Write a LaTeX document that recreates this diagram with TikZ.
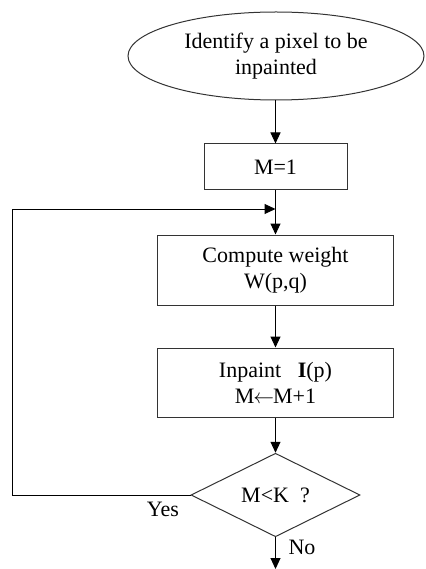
\documentclass[tikz,border=0pt]{standalone}
\usepackage{fontspec}
\setmainfont{Liberation Serif}
\usetikzlibrary{arrows.meta,shapes.geometric}
\begin{document}
\begin{tikzpicture}[x=1pt,y=-1pt,
  every node/.style={font=\fontsize{22}{26}\selectfont, text=black, align=center},
  boxnode/.style={draw=black!80, line width=1pt, rectangle, inner sep=0pt},
  ovalnode/.style={draw=black!80, line width=1pt, ellipse, inner sep=0pt},
  decnode/.style={draw=black!80, line width=1pt, diamond, inner sep=0pt},
  flow/.style={draw=black, line width=1pt, -{Triangle[length=11pt,width=10pt]}},
  lbl/.style={inner sep=0pt}]
\useasboundingbox (0,0) rectangle (425,569);
\node[ovalnode, minimum width=296pt, minimum height=88pt] (ell) at (276,56) {Identify a pixel to be\\inpainted};
\node[boxnode, minimum width=143pt, minimum height=46pt] (m1) at (275.5,167) {M=1};
\node[boxnode, minimum width=236pt, minimum height=70pt] (cw) at (275.5,270) {Compute weight\\W(p,q)};
\node[boxnode, minimum width=236pt, minimum height=69pt] (ip) at (275.5,382.5) {Inpaint\ \ \ \textbf{I}(p)\\M\kern-1pt$\leftarrow$\kern-1ptM+1};
\node[decnode, minimum width=169pt, minimum height=72pt] (dia) at (275.5,495) {M<K\ \ ?};
\node[lbl] (yes) at (163,509) {Yes};
\node[lbl] (no) at (302,547) {No};
\coordinate (j) at (275.5,209);
\coordinate (lc) at (12,209);
\coordinate (endp) at (275.5,569);
\draw[flow] (ell.south -| m1.north) -- (m1.north);
\draw[flow] (m1.south) -- (cw.north);
\draw[flow] (cw.south) -- (ip.north);
\draw[flow] (ip.south) -- (dia.north);
\draw[flow] (dia.west) -| (lc) -- (j);
\draw[flow] (dia.south) -- (endp);
\end{tikzpicture}
\end{document}
